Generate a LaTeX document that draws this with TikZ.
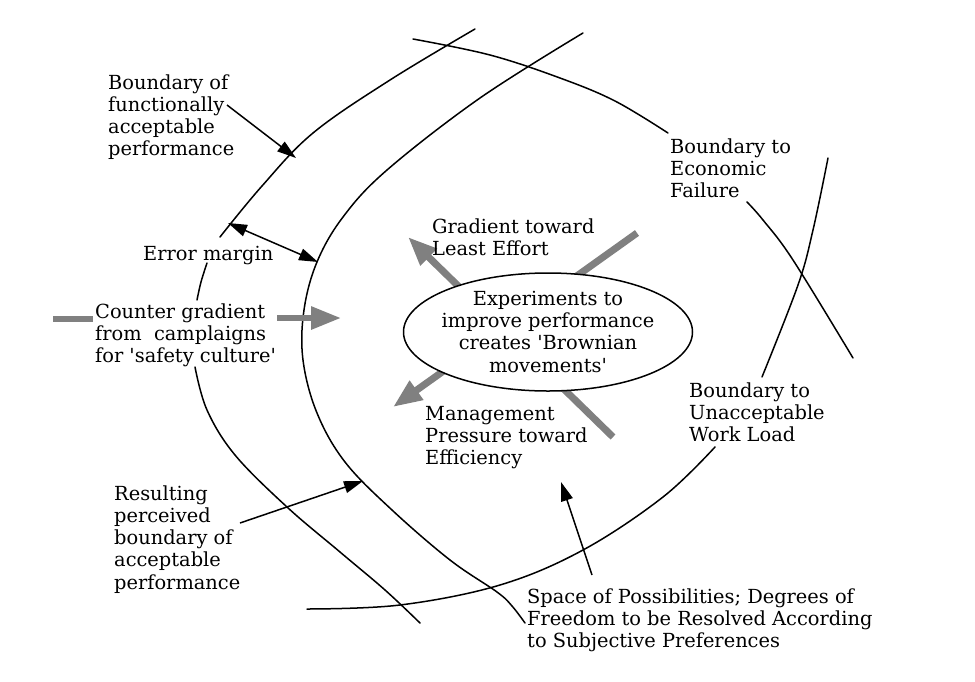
\documentclass[tikz,border=0pt]{standalone}
\usepackage{fontspec}
\setmainfont{DejaVu Serif}
\usetikzlibrary{arrows.meta,shapes.geometric}
\begin{document}
\begin{tikzpicture}[x=1pt,y=-1pt,
  curve/.style={line width=1.5pt, line cap=round},
  txtfont/.style={font=\fontsize{19.4}{22.3}\selectfont},
  lbl/.style={txtfont, align=left, inner sep=0pt, anchor=base west},
  blackarrow/.style={line width=1.5pt, -{Triangle[length=19pt,width=12pt]}},
  grayarrow/.style={line width=7pt, draw=gray, -{Triangle[length=29pt,width=22pt]}},
  grayline/.style={line width=6pt, draw=gray}]
\fill[white] (0,0) rectangle (975,681);
\useasboundingbox (0,0) rectangle (975,681);

% curves
\draw[curve] plot[smooth, tension=0.6] coordinates {(475,29) (390,80) (313,133) (262,186) (220,237)};
\draw[curve] plot[smooth, tension=0.6] coordinates {(207,263) (201,282) (197,300)};
\draw[curve] plot[smooth, tension=0.6] coordinates {(195,367) (207,410) (235,455) (287,507) (340,552) (385,590) (420,623)};
\draw[curve] plot[smooth, tension=0.6] coordinates {(583,33) (480,98) (387,170) (343,217) (317,262) (304,310) (303,360) (317,413) (345,462) (392,510) (450,560) (497,592) (512,606) (525,623)};
\draw[curve] plot[smooth, tension=0.6] coordinates {(413,39) (490,55) (560,78) (615,101) (668,133)};
\draw[curve] plot[smooth, tension=0.6] coordinates {(747,202) (763,220) (793,260) (853,358)};
\draw[curve] plot[smooth, tension=0.6] coordinates {(828,158) (813,230) (798,285) (762,377)};
\draw[curve] plot[smooth, tension=0.6] coordinates {(715,447) (663,497) (583,550) (500,585) (400,605) (307,609)};

% gray gradient arrows
\coordinate (g1s) at (613,437);
\coordinate (g1e) at (408,237);
\coordinate (g2s) at (637,233);
\coordinate (g2e) at (393,407);
\draw[grayarrow] (g1s) -- (g1e);
\draw[grayarrow] (g2s) -- (g2e);

% central ellipse
\node[ellipse, draw, line width=1.5pt, fill=white, minimum width=289pt, minimum height=118pt, inner sep=0pt] (ell) at (548,332) {};
\node[txtfont, align=center, inner sep=0pt, anchor=base] (ex) at (548,372)
  {Experiments to\\improve performance\\creates \textquotesingle Brownian\\movements\textquotesingle};

% labels (anchor = baseline of last line)
\node[lbl] (fa) at (108,155.9) {Boundary of\\functionally\\acceptable\\performance};
\node[lbl] (em) at (143,260) {Error margin};
\node[lbl] (cg) at (95,362.6) {Counter gradient\\from\ \ camplaigns\\for \textquotesingle safety culture\textquotesingle};
\node[lbl] (gl) at (432,255.3) {Gradient toward\\Least Effort};
\node[lbl] (mp) at (425,464.6) {Management\\Pressure toward\\Efficiency};
\node[lbl] (ef) at (670,197.6) {Boundary to\\Economic\\Failure};
\node[lbl] (wl) at (689,441.6) {Boundary to\\Unacceptable\\Work Load};
\node[lbl] (rp) at (114,589.2) {Resulting\\perceived\\boundary of\\acceptable\\performance};
\node[lbl] (sp) at (527,647.6) {Space of Possibilities; Degrees of\\Freedom to be Resolved According\\to Subjective Preferences};

% connector end points
\coordinate (faS) at (227,105);
\coordinate (faT) at (296,158);
\coordinate (emA) at (228,223);
\coordinate (emB) at (318,262);
\coordinate (cgL1) at (53,319);
\coordinate (cgL2) at (93,319);
\coordinate (cgA1) at (277,318);
\coordinate (cgA2) at (341,318);
\coordinate (rpS) at (240,523);
\coordinate (rpT) at (363,481);
\coordinate (spS) at (592,575);
\coordinate (spT) at (561,482);

\draw[blackarrow] (faS) -- (faT);
\draw[line width=1.5pt, {Triangle[length=19pt,width=12pt]}-{Triangle[length=19pt,width=12pt]}] (emA) -- (emB);
\draw[grayline] (cgL1) -- (cgL2);
\draw[line width=6pt, draw=gray, -{Triangle[length=30pt,width=22pt]}] (cgA1) -- (cgA2);
\draw[blackarrow] (rpS) -- (rpT);
\draw[blackarrow] (spS) -- (spT);
\end{tikzpicture}
\end{document}
